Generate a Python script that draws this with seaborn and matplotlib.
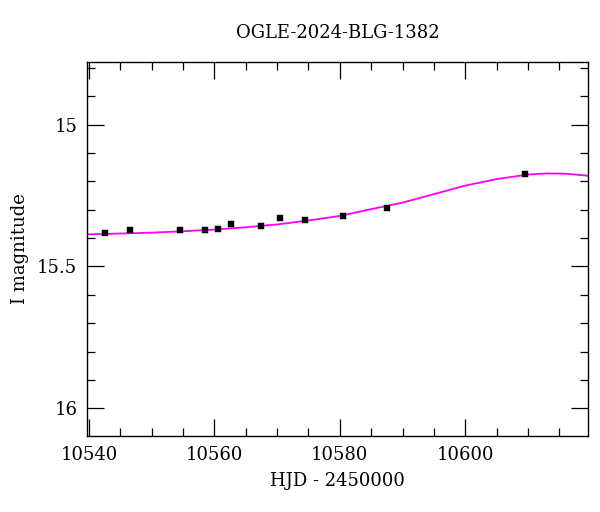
import numpy as np
import pandas as pd
import matplotlib
matplotlib.use("Agg")
import matplotlib.pyplot as plt
import matplotlib.ticker as mtick
import seaborn as sns

# OGLE photometry (HJD - 2450000, I mag, error)
hjd = [10542.6, 10546.6, 10554.6, 10558.5, 10560.6, 10562.6,
       10567.5, 10570.5, 10574.5, 10580.5, 10587.5, 10609.5]
mag = [15.383, 15.371, 15.370, 15.372, 15.368, 15.349,
       15.356, 15.328, 15.335, 15.322, 15.295, 15.175]
mag_err = [0.006, 0.006, 0.006, 0.006, 0.006, 0.006,
           0.006, 0.006, 0.006, 0.006, 0.006, 0.005]

# model curve samples
model_hjd = [10539.7, 10545, 10550, 10555, 10560, 10565, 10570, 10575,
             10580, 10585, 10590, 10595, 10600, 10605, 10610, 10613,
             10616, 10619.5]
model_mag = [15.387, 15.384, 15.381, 15.376, 15.370, 15.362, 15.352, 15.338,
             15.322, 15.298, 15.275, 15.245, 15.215, 15.192, 15.176, 15.172,
             15.173, 15.180]

title = "OGLE-2024-BLG-1382"

sns.set_style("ticks")
plt.rcParams['font.family'] = ['DejaVu Serif']
plt.rcParams['mathtext.fontset'] = 'dejavuserif'
for key in ['text.color', 'axes.labelcolor', 'xtick.color', 'ytick.color',
            'xtick.labelcolor', 'ytick.labelcolor']:
    plt.rcParams[key] = 'black'

fig = plt.figure(figsize=(6, 5.12), dpi=100)
ax = fig.add_axes([0.145, 0.1484, 0.8345, 0.7306])

data = pd.DataFrame({'hjd': hjd, 'mag': mag, 'err': mag_err})
model = pd.DataFrame({'hjd': model_hjd, 'mag': model_mag})

sns.lineplot(data=model, x='hjd', y='mag', ax=ax, color='#ff00ff',
             linewidth=1.3, sort=True, estimator=None)
ax.errorbar(data['hjd'], data['mag'], yerr=data['err'], fmt='none',
            ecolor='black', elinewidth=1.0, capsize=0, zorder=3)
sns.scatterplot(data=data, x='hjd', y='mag', ax=ax, marker='s', s=22,
                color='black', edgecolor='black', linewidth=0.3, zorder=4)

ax.set_xlim(10539.7, 10619.5)
ax.set_ylim(16.098, 14.779)

ax.xaxis.set_major_locator(mtick.MultipleLocator(20))
ax.xaxis.set_minor_locator(mtick.MultipleLocator(5))
ax.yaxis.set_major_locator(mtick.MultipleLocator(0.5))
ax.yaxis.set_minor_locator(mtick.MultipleLocator(0.1))
ax.yaxis.set_major_formatter(mtick.FormatStrFormatter('%g'))
ax.xaxis.set_major_formatter(mtick.FormatStrFormatter('%d'))

ax.tick_params(which='both', direction='in', top=True, right=True,
               color='black', width=0.9, labelsize=13)
ax.tick_params(which='major', length=12, pad=7)
ax.tick_params(which='minor', length=6)
for sp in ax.spines.values():
    sp.set_linewidth(1.0)
    sp.set_color('black')

ax.set_xlabel('HJD - 2450000', fontsize=13, labelpad=6)
ax.set_ylabel('I magnitude', fontsize=13, labelpad=6)
ax.set_title(title, fontsize=13, pad=17)

fig.savefig('out.png', dpi=100)
